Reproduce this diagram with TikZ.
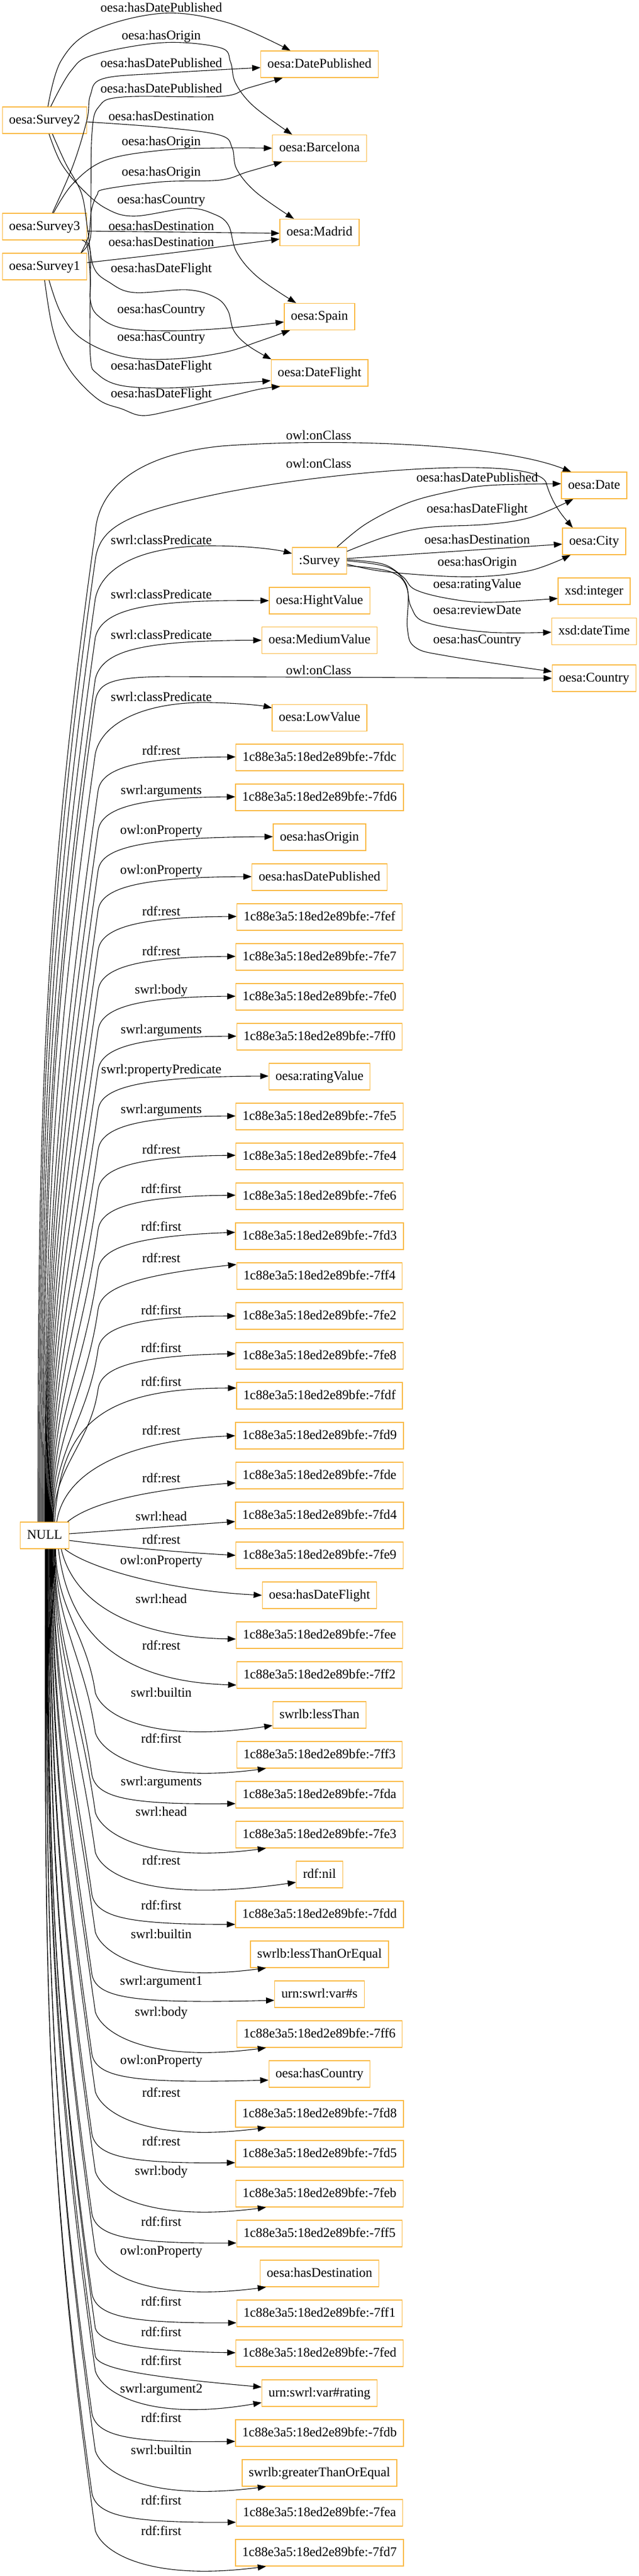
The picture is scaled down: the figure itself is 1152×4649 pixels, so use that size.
\documentclass[tikz,border=0pt]{standalone}
\usepackage{fontspec}
\setmainfont{Liberation Serif}
\usetikzlibrary{arrows.meta,calc}
\definecolor{boxc}{RGB}{250,184,64}
\newcommand\lf{\fontsize{11.9pt}{14pt}\selectfont}
\newcommand\bid[1]{1c88e3a5:18ed2e89bfe:-#1}
% upper list edge: target, start shift, end offset (px)
\newcommand\nup[3]{\draw[conn] let \p1=(#1.west) in ($(NULL.north)+(#2,0)$) to[out=90,in=-98] (88.5pt,\y1-30pt) .. controls (91pt,\y1-12.5pt) and (115pt,\y1) .. ($(#1.west)+(0,#3)$);}
% lower list edge, entering left side
\newcommand\ndl[3]{\draw[conn] let \p1=(#1.west) in ($(NULL.south)+(#2,0)$) to[out=-90,in=98] (83pt,\y1+17.5pt) .. controls (87.5pt,\y1-2.5pt) and (115pt,\y1-9pt) .. ($(#1.west)+(0,#3)$);}
% lower list edge, entering from below
\newcommand\ndb[3]{\draw[conn] let \p1=(#1.west) in ($(NULL.south)+(#2,0)$) to[out=-90,in=98] (86pt,\y1+20pt) .. controls (92.5pt,\y1) and (135pt,\y1-26pt) .. #3;}
\begin{document}
\begin{tikzpicture}[x=0.5pt,y=-0.5pt,
  nbox/.style={draw=boxc, line width=0.65pt, inner xsep=6pt, inner ysep=0pt, minimum height=24pt, font=\lf, text height=8.4pt, text depth=2.4pt},
  elab/.style={font=\lf, inner sep=0pt},
  conn/.style={line width=0.55pt, -{Triangle[length=7.5pt,width=5.5pt]}}]
\fill[white] (0,0) rectangle (1152,4649);
\useasboundingbox (0,0) rectangle (1152,4649);
\coordinate (bx) at (480,0);
% ---------- top nodes
\node[nbox] (S2) at (80.5,217) {oesa:Survey2};
\node[nbox] (S3) at (80.5,409) {oesa:Survey3};
\node[nbox] (S1) at (80.5,481) {oesa:Survey1};
\node[nbox] (DP) at (576.5,116) {oesa:DatePublished};
\node[nbox] (BC) at (576.5,267.5) {oesa:Barcelona};
\node[nbox] (MD) at (576.5,419.5) {oesa:Madrid};
\node[nbox] (SP) at (576.5,571.5) {oesa:Spain};
\node[nbox] (DF) at (576.5,673) {oesa:DateFlight};
% ---------- section 2 nodes
\node[nbox] (Date) at (1072,876) {oesa:Date};
\node[nbox] (City) at (1072,977) {oesa:City};
\node[nbox] (Survey) at (576.5,1012) {:Survey};
\node[nbox] (Int) at (1072,1067) {xsd:integer};
\node[nbox] (DT) at (1072,1139.5) {xsd:dateTime};
\node[nbox] (Country) at (1072,1224) {oesa:Country};
\node[nbox] (HV) at (576.5,1084) {oesa:HightValue};
\node[nbox] (MV) at (576.5,1155.5) {oesa:MediumValue};
\node[nbox] (LV) at (576.5,1295.5) {oesa:LowValue};
\node[nbox] (NULL) at (80.5,2771) {NULL};
% ---------- list nodes
\node[nbox] (L0) at (576.5,1367) {\bid{7fdc}};
\node[nbox] (L1) at (576.5,1439) {\bid{7fd6}};
\node[nbox] (L2) at (576.5,1511) {oesa:hasOrigin};
\node[nbox] (L3) at (576.5,1583) {oesa:hasDatePublished};
\node[nbox] (L4) at (576.5,1655) {\bid{7fef}};
\node[nbox] (L5) at (576.5,1727) {\bid{7fe7}};
\node[nbox] (L6) at (576.5,1799) {\bid{7fe0}};
\node[nbox] (L7) at (576.5,1871) {\bid{7ff0}};
\node[nbox] (L8) at (576.5,1943) {oesa:ratingValue};
\node[nbox] (L9) at (576.5,2015) {\bid{7fe5}};
\node[nbox] (L10) at (576.5,2087) {\bid{7fe4}};
\node[nbox] (L11) at (576.5,2159) {\bid{7fe6}};
\node[nbox] (L12) at (576.5,2231) {\bid{7fd3}};
\node[nbox] (L13) at (576.5,2303) {\bid{7ff4}};
\node[nbox] (L14) at (576.5,2375) {\bid{7fe2}};
\node[nbox] (L15) at (576.5,2447) {\bid{7fe8}};
\node[nbox] (L16) at (576.5,2519) {\bid{7fdf}};
\node[nbox] (L17) at (576.5,2591) {\bid{7fd9}};
\node[nbox] (L18) at (576.5,2663) {\bid{7fde}};
\node[nbox] (L19) at (576.5,2735) {\bid{7fd4}};
\node[nbox] (L20) at (576.5,2807) {\bid{7fe9}};
\node[nbox] (L21) at (576.5,2879) {oesa:hasDateFlight};
\node[nbox] (L22) at (576.5,2951) {\bid{7fee}};
\node[nbox] (L23) at (576.5,3023) {\bid{7ff2}};
\node[nbox] (L24) at (576.5,3095) {swrlb:lessThan};
\node[nbox] (L25) at (576.5,3167) {\bid{7ff3}};
\node[nbox] (L26) at (576.5,3239) {\bid{7fda}};
\node[nbox] (L27) at (576.5,3311) {\bid{7fe3}};
\node[nbox] (L28) at (576.5,3383) {rdf:nil};
\node[nbox] (L29) at (576.5,3455) {\bid{7fdd}};
\node[nbox] (L30) at (576.5,3527) {swrlb:lessThanOrEqual};
\node[nbox] (L31) at (576.5,3599) {urn:swrl:var\#s};
\node[nbox] (L32) at (576.5,3671) {\bid{7ff6}};
\node[nbox] (L33) at (576.5,3743) {oesa:hasCountry};
\node[nbox] (L34) at (576.5,3815) {\bid{7fd8}};
\node[nbox] (L35) at (576.5,3887) {\bid{7fd5}};
\node[nbox] (L36) at (576.5,3959) {\bid{7feb}};
\node[nbox] (L37) at (576.5,4031) {\bid{7ff5}};
\node[nbox] (L38) at (576.5,4103) {oesa:hasDestination};
\node[nbox] (L39) at (576.5,4175) {\bid{7ff1}};
\node[nbox] (L40) at (576.5,4247) {\bid{7fed}};
\node[nbox] (L41) at (576.5,4319) {urn:swrl:var\#rating};
\node[nbox] (L42) at (576.5,4391) {\bid{7fdb}};
\node[nbox] (L43) at (576.5,4463) {swrlb:greaterThanOrEqual};
\node[nbox] (L44) at (576.5,4535) {\bid{7fea}};
\node[nbox] (L45) at (576.5,4607) {\bid{7fd7}};
% ---------- top edges
\draw[conn] plot[smooth,tension=0.6] coordinates {($(S2.north)+(6,0)$) (110,110) (169,55) (294,24) (411,41) ($(DP.north west)+(54,0)$)};
\draw[conn] plot[smooth,tension=0.6] coordinates {($(S2.north)+(11,0)$) (128,128) (169,99) (294,77) (397,86) (416,112) (425,150) (458,192) ($(BC.north west)+(36,0)$)};
\draw[conn] plot[smooth,tension=0.6] coordinates {($(S3.north)+(14,0)$) (132,298) (157,216) (163,172) (186,142) (294,132) ($(DP.west)+(0,6)$)};
\draw[conn] plot[smooth,tension=0.6] coordinates {($(S1.north east)+(-11,0)$) (163,430) (164,360) (166,240) (178,193) (222,175) (397,174) (447,159) ($(DP.south west)+(40,0)$)};
\draw[conn] plot[smooth,tension=0.6] coordinates {($(S2.east)+(0,3)$) (294,230) (397,244) (419,267) (427,305) (462,347) ($(MD.north west)+(26,0)$)};
\draw[conn] plot[smooth,tension=0.6] coordinates {($(S3.north)+(16,0)$) (132,331) (191,289) (294,271) (400,267) (BC.west)};
\draw[conn] plot[smooth,tension=0.6] coordinates {($(S1.north east)+(-11,0)$) (160,425) (165,380) (175,352) (191,341) (294,328) (397,325) (447,310) ($(BC.south west)+(18,0)$)};
\draw[conn] plot[smooth,tension=0.6] coordinates {($(S2.south)+(8,0)$) (110,294) (147,340) (191,376) (242,390) (338,376) (385,386) (412,406) (427,455) (465,500) ($(SP.north west)+(22,0)$)};
\draw[conn] ($(S3.east)+(0,8)$) -- ($(MD.west)+(0,1.5)$);
\draw[conn] ($(S1.east)+(0,-7)$) .. controls (300,458) .. ($(MD.west)+(0,12)$);
\draw[conn] plot[smooth,tension=0.6] coordinates {($(S2.south)+(14,0)$) (118,294) (147,349) (158,413) (169,482) (198,510) (242,528) (338,523) (389,537) (411,560) (422,597) (448,624) ($(DF.north west)+(1,0)$)};
\draw[conn] plot[smooth,tension=0.6] coordinates {($(S3.south east)+(-9,0)$) (158,446) (163,505) (163,542) (176,569) (220,592) (309,597) (411,592) ($(SP.west)+(0,9.5)$)};
\draw[conn] plot[smooth,tension=0.6] coordinates {($(S1.south)+(8,0)$) (110,565) (147,611) (220,643) (309,648) (404,636) (470,615) ($(SP.south west)+(11,0)$)};
\draw[conn] plot[smooth,tension=0.6] coordinates {($(S3.south east)+(-2,0)$) (163,455) (163,505) (163,643) (176,675) (220,696) (309,700) (411,693) ($(DF.west)+(0,14)$)};
\draw[conn] plot[smooth,tension=0.6] coordinates {(S1.south) (96,597) (125,666) (176,720) (220,738) (257,750) (309,741) (367,727) (411,716) (470,702) ($(DF.south west)+(17,0)$)};
% top labels
\node[elab] (t1) at (291,13.8) {oesa:hasDatePublished};
\node[elab] (t2) at (291,65.7) {oesa:hasOrigin};
\node[elab] (t3) at (291,113.4) {oesa:hasDatePublished};
\node[elab] (t4) at (291,159.8) {oesa:hasDatePublished};
\node[elab] (t5) at (291,209.8) {oesa:hasDestination};
\node[elab] (t6) at (291,257) {oesa:hasOrigin};
\node[elab] (t7) at (291,312) {oesa:hasOrigin};
\node[elab] (t8) at (291,362) {oesa:hasCountry};
\node[elab] (t9) at (291,407.7) {oesa:hasDestination};
\node[elab] (t10) at (291,436.6) {oesa:hasDestination};
\node[elab] (t11) at (291,485.8) {oesa:hasDateFlight};
\node[elab] (t12) at (291,560) {oesa:hasCountry};
\node[elab] (t13) at (291,610) {oesa:hasCountry};
\node[elab] (t14) at (291,662) {oesa:hasDateFlight};
\node[elab] (t15) at (291,711.6) {oesa:hasDateFlight};
% ---------- Survey edges
\draw[conn] plot[smooth,tension=0.6] coordinates {($(Survey.north east)+(-18,0)$) (661,945) (735,908) (808,888) (882,876) ($(Date.west)+(0,-3)$)};
\draw[conn] plot[smooth,tension=0.6] coordinates {($(Survey.east)+(0,-17)$) (698,968) (771,952) (882,946) (960,933) ($(Date.south west)+(22,0)$)};
\draw[conn] ($(Survey.east)+(0,-4)$) -- ($(City.west)+(0,5)$);
\draw[conn] plot[smooth,tension=0.6] coordinates {($(Survey.east)+(0,6)$) (698,1032) (845,1041) (955,1030) ($(City.south west)+(15,0)$)};
\draw[conn] plot[smooth,tension=0.6] coordinates {($(Survey.east)+(0,-2)$) (691,1018) (727,1041) (749,1064) (808,1080) (882,1087) ($(Int.west)+(0,13)$)};
\draw[conn] plot[smooth,tension=0.6] coordinates {(Survey.east) (698,1023) (731,1051) (742,1096) (771,1124) (882,1141) ($(DT.west)+(0,1.5)$)};
\draw[conn] plot[smooth,tension=0.6] coordinates {($(Survey.east)+(0,9)$) (705,1032) (735,1064) (735,1133) (749,1168) (808,1184) ($(Country.west)+(0,-12)$)};
\node[elab] (s1) at (861,861.4) {oesa:hasDatePublished};
\node[elab] (s2) at (861,920) {oesa:hasDateFlight};
\node[elab] (s3) at (861,973) {oesa:hasDestination};
\node[elab] (s4) at (861,1016) {oesa:hasOrigin};
\node[elab] (s5) at (861,1055.6) {oesa:ratingValue};
\node[elab] (s6) at (861,1100.6) {oesa:reviewDate};
\node[elab] (s7) at (861,1155.7) {oesa:hasCountry};
% ---------- NULL edges, section 2
\draw[conn] ($(NULL.north)+(-12,0)$) to[out=90,in=-98] (172,960) .. controls (178,880) and (250,820) .. (400,805) .. controls (600,790) and (900,800) .. ($(Date.north west)+(18,0)$);
\draw[conn] ($(NULL.north)+(-10,0)$) to[out=90,in=-98] (172,1010) .. controls (180,950) and (230,925) .. (400,890) .. controls (600,850) and (960,820) .. (985,870) .. controls (995,905) and (1010,925) .. ($(City.north west)+(19,0)$);
\draw[conn] ($(NULL.north)+(-8,0)$) to[out=90,in=-98] (172,1080) .. controls (185,1020) and (260,985) .. (382,985) .. controls (450,985) and (500,992) .. ($(Survey.west)+(0,-13)$);
\draw[conn] ($(NULL.north)+(-6,0)$) to[out=90,in=-98] (172,1150) .. controls (185,1100) and (260,1082) .. (HV.west);
\draw[conn] ($(NULL.north)+(-4,0)$) to[out=90,in=-98] (172,1225) .. controls (185,1175) and (250,1156) .. (MV.west);
\draw[conn] ($(NULL.north)+(-2,0)$) to[out=90,in=-98] (172,1265) .. controls (178,1232) and (200,1222) .. (300,1221) -- (Country.west);
\draw[conn] (NULL.north) to[out=90,in=-98] (172,1360) .. controls (185,1300) and (270,1265) .. (382,1268) .. controls (430,1269) and (470,1273) .. ($(LV.west)+(0,-18)$);
\node[elab] (n1) at (575,785) {owl:onClass};
\node[elab] (n2) at (575,836) {owl:onClass};
\node[elab] (n3) at (291,974) {swrl:classPredicate};
\node[elab] (n4) at (291,1072) {swrl:classPredicate};
\node[elab] (n5) at (291,1145) {swrl:classPredicate};
\node[elab] (n6) at (575,1209) {owl:onClass};
\node[elab] (n7) at (291,1257) {swrl:classPredicate};
% ---------- upper list edges
\nup{L0}{1}{-1}
\nup{L1}{2}{-1}
\nup{L2}{3}{-1}
\nup{L3}{4}{-1}
\nup{L4}{5}{-1}
\nup{L5}{6}{-1}
\nup{L6}{7}{-1}
\nup{L7}{8}{-1}
\nup{L8}{9}{-1}
\nup{L9}{10}{-1}
\nup{L10}{11}{-2}
\nup{L11}{12}{-2}
\nup{L12}{13}{-7}
\nup{L13}{14}{-21}
\nup{L14}{15}{0}
\nup{L15}{16}{-4}
\draw[conn] ($(NULL.north)+(18,0)$) .. controls (110,2580) and (170,2505) .. ($(L16.west)+(0,-14)$);
\draw[conn] ($(NULL.north)+(22,0)$) .. controls (115,2660) and (220,2600) .. (L17.west);
\draw[conn] ($(NULL.north east)+(-3,0)$) .. controls (160,2715) and (250,2690) .. ($(L18.west)+(0,13)$);
\draw[conn] ($(NULL.east)+(0,-3)$) -- ($(L19.west)+(0,11)$);
\draw[conn] ($(NULL.east)+(0,9)$) .. controls (200,2790) and (300,2800) .. (L20.west);
\draw[conn] ($(NULL.south east)+(-8,0)$) .. controls (160,2830) and (300,2870) .. (L21.west);
\draw[conn] ($(NULL.south)+(30,0)$) .. controls (135,2900) and (250,2955) .. ($(L22.west)+(0,7)$);
\draw[conn] ($(NULL.south)+(25,0)$) .. controls (125,2960) and (230,3035) .. ($(L23.west)+(0,18)$);
% ---------- lower list edges
\ndb{L24}{20}{($(L24.west)+(0,19)$)}
\ndb{L25}{19.1}{(bx |- L25.south)}
\ndl{L26}{18.2}{16}
\ndb{L27}{17.3}{(bx |- L27.south)}
\ndb{L28}{16.4}{($(L28.west)+(0,14)$)}
\ndl{L29}{15.5}{18}
\ndb{L30}{14.6}{(bx |- L30.south)}
\ndl{L31}{13.7}{11}
\ndb{L32}{12.8}{(bx |- L32.south)}
\ndl{L33}{11.9}{11}
\ndb{L34}{11}{(bx |- L34.south)}
\ndl{L35}{10.1}{16}
\ndb{L36}{9.2}{(bx |- L36.south)}
\ndl{L37}{8.3}{17}
\ndb{L38}{7.4}{(bx |- L38.south)}
\ndl{L39}{6.5}{17}
\draw[conn] let \p1=(L40.west) in ($(NULL.south)+(5.6,0)$) to[out=-90,in=98] (86pt,\y1+22.5pt) .. controls (90pt,\y1+10pt) and (120pt,\y1+2pt) .. ($(L40.west)+(0,-1)$);
\draw[conn] let \p1=(L41.west) in ($(NULL.south)+(4.7,0)$) to[out=-90,in=98] (86pt,\y1+33pt) .. controls (90pt,\y1+22pt) and (130pt,\y1+15pt) .. ($(L41.west)+(0,-11)$);
\ndb{L41}{4.2}{($(L41.west)+(0,17)$)}
\ndl{L42}{3.8}{15}
\ndb{L43}{2.9}{(bx |- L43.south)}
\ndl{L44}{2}{17}
\ndb{L45}{1.1}{(bx |- L45.south)}
% ---------- list labels
\node[elab] (m0) at (291,1354) {rdf:rest};
\node[elab] (m1) at (291,1428) {swrl:arguments};
\node[elab] (m2) at (291,1500) {owl:onProperty};
\node[elab] (m3) at (291,1572) {owl:onProperty};
\node[elab] (m4) at (291,1644) {rdf:rest};
\node[elab] (m5) at (291,1716) {rdf:rest};
\node[elab] (m6) at (291,1788) {swrl:body};
\node[elab] (m7) at (291,1860) {swrl:arguments};
\node[elab] (m8) at (291,1932) {swrl:propertyPredicate};
\node[elab] (m9) at (291,2004) {swrl:arguments};
\node[elab] (m10) at (291,2074) {rdf:rest};
\node[elab] (m11) at (291,2145) {rdf:first};
\node[elab] (m12) at (291,2213) {rdf:first};
\node[elab] (m13) at (291,2270) {rdf:rest};
\node[elab] (m14) at (291,2364) {rdf:first};
\node[elab] (m15) at (291,2432) {rdf:first};
\node[elab] (m16) at (291,2493) {rdf:first};
\node[elab] (m17) at (291,2581) {rdf:rest};
\node[elab] (m18) at (291,2667) {rdf:rest};
\node[elab] (m19) at (291,2736) {swrl:head};
\node[elab] (m20) at (291,2778) {rdf:rest};
\node[elab] (m21) at (291,2818) {owl:onProperty};
\node[elab] (m22) at (291,2885) {swrl:head};
\node[elab] (m23) at (291,2969) {rdf:rest};
\node[elab] (m24) at (291,3054) {swrl:builtin};
\node[elab] (m25) at (291,3137) {rdf:first};
\node[elab] (m26) at (291,3217) {swrl:arguments};
\node[elab] (m27) at (291,3269) {swrl:head};
\node[elab] (m28) at (291,3357) {rdf:rest};
\node[elab] (m29) at (291,3438) {rdf:first};
\node[elab] (m30) at (291,3490) {swrl:builtin};
\node[elab] (m31) at (291,3577) {swrl:argument1};
\node[elab] (m32) at (291,3633) {swrl:body};
\node[elab] (m33) at (291,3720) {owl:onProperty};
\node[elab] (m34) at (291,3776) {rdf:rest};
\node[elab] (m35) at (291,3864) {rdf:rest};
\node[elab] (m36) at (291,3920) {swrl:body};
\node[elab] (m37) at (291,4009) {rdf:first};
\node[elab] (m38) at (291,4064) {owl:onProperty};
\node[elab] (m39) at (291,4153) {rdf:first};
\node[elab] (m40) at (291,4208) {rdf:first};
\node[elab] (m41) at (291,4260) {rdf:first};
\node[elab] (m41b) at (291,4313) {swrl:argument2};
\node[elab] (m42) at (291,4363) {rdf:first};
\node[elab] (m43) at (291,4421) {swrl:builtin};
\node[elab] (m44) at (291,4512) {rdf:first};
\node[elab] (m45) at (291,4567) {rdf:first};
\end{tikzpicture}
\end{document}
